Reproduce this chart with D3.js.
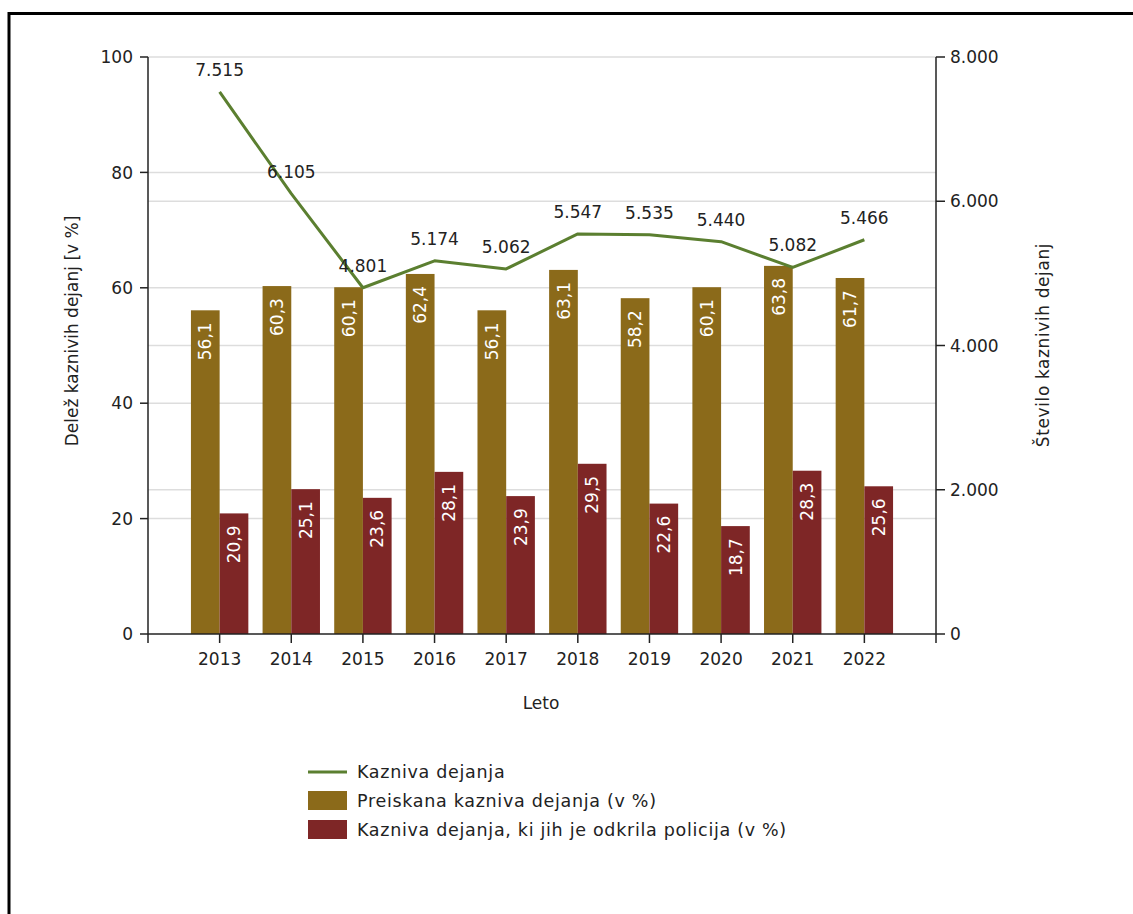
<!DOCTYPE html>
<html>
<head>
<meta charset="utf-8">
<script src="https://cdn.jsdelivr.net/npm/d3@7/dist/d3.min.js"></script>
<style>
  html, body { margin: 0; padding: 0; background: #fff; }
  svg text { font-family: "DejaVu Sans", Verdana, sans-serif; fill: #222; }
</style>
</head>
<body>
<svg id="chart" width="1133" height="914"></svg>
<script>
const years = ["2013","2014","2015","2016","2017","2018","2019","2020","2021","2022"];
const investigated = [56.1, 60.3, 60.1, 62.4, 56.1, 63.1, 58.2, 60.1, 63.8, 61.7];
const police = [20.9, 25.1, 23.6, 28.1, 23.9, 29.5, 22.6, 18.7, 28.3, 25.6];
const offences = [7515, 6105, 4801, 5174, 5062, 5547, 5535, 5440, 5082, 5466];
const leftTicks = [0, 20, 40, 60, 80, 100];
const rightTicks = [0, 2000, 4000, 6000, 8000];
const seriesNames = ["Kazniva dejanja", "Preiskana kazniva dejanja (v %)", "Kazniva dejanja, ki jih je odkrila policija (v %)"];

const colBrown = "#8b6a1a", colRed = "#7e2626", colGreen = "#5b7f30", gridCol = "#dddddd";

const svg = d3.select("#chart");
const L = 148, R = 936, T = 57, B = 634;

// frame
svg.append("path").attr("d", `M9,914 V13.5 H1133`).attr("fill","none").attr("stroke","#000").attr("stroke-width",3);

const x = d3.scalePoint().domain(years).range([L, R]).padding(1);
const yL = d3.scaleLinear().domain([0, 100]).range([B, T]);
const yR = d3.scaleLinear().domain([0, 8000]).range([B, T]);
const bw = 28.7;
const fmtPct = d => d3.format(".1f")(d).replace(".", ",");
const fmtNum = d => d3.format(",")(d).replace(/,/g, ".");

// gridlines
const g = svg.append("g");
g.selectAll("line.gl").data(leftTicks.filter(d => d > 0)).join("line")
  .attr("x1", L).attr("x2", R).attr("y1", d => yL(d)).attr("y2", d => yL(d))
  .attr("stroke", gridCol).attr("stroke-width", 1.5);
g.selectAll("line.gr").data(rightTicks.filter(d => d > 0 && d < 8000)).join("line")
  .attr("x1", L).attr("x2", R).attr("y1", d => yR(d)).attr("y2", d => yR(d))
  .attr("stroke", gridCol).attr("stroke-width", 1.5);

// bars
svg.append("g").selectAll("rect").data(years).join("rect")
  .attr("x", d => x(d) - bw).attr("width", bw)
  .attr("y", (d, i) => yL(investigated[i])).attr("height", (d, i) => B - yL(investigated[i]))
  .attr("fill", colBrown);
svg.append("g").selectAll("rect").data(years).join("rect")
  .attr("x", d => x(d)).attr("width", bw)
  .attr("y", (d, i) => yL(police[i])).attr("height", (d, i) => B - yL(police[i]))
  .attr("fill", colRed);

// bar labels
function barLabels(vals, dx) {
  svg.append("g").selectAll("text").data(years).join("text")
    .attr("transform", (d, i) => `translate(${x(d) + dx},${yL(vals[i]) + 31}) rotate(-90)`)
    .attr("text-anchor", "middle").attr("dy", "0.36em")
    .style("font-size", "17px").style("fill", "#fff")
    .text((d, i) => fmtPct(vals[i]));
}
barLabels(investigated, -bw / 2);
barLabels(police, bw / 2);

// axes
const axisG = svg.append("g").attr("stroke", "#222").attr("stroke-width", 1.5);
axisG.append("line").attr("x1", L).attr("x2", L).attr("y1", T).attr("y2", B + 9);
axisG.append("line").attr("x1", R).attr("x2", R).attr("y1", T).attr("y2", B + 9);
axisG.append("line").attr("x1", L).attr("x2", R).attr("y1", B).attr("y2", B);
axisG.selectAll("line.tl").data(leftTicks).join("line")
  .attr("x1", L - 8).attr("x2", L).attr("y1", d => yL(d)).attr("y2", d => yL(d));
axisG.selectAll("line.tr").data(rightTicks).join("line")
  .attr("x1", R).attr("x2", R + 9).attr("y1", d => yR(d)).attr("y2", d => yR(d));
axisG.selectAll("line.tx").data(years).join("line")
  .attr("x1", d => x(d)).attr("x2", d => x(d)).attr("y1", B).attr("y2", B + 9);

svg.append("g").selectAll("text").data(leftTicks).join("text")
  .attr("x", L - 15).attr("y", d => yL(d)).attr("dy", "0.36em").attr("text-anchor", "end")
  .style("font-size", "17px").text(d => d);
svg.append("g").selectAll("text").data(rightTicks).join("text")
  .attr("x", R + 14).attr("y", d => yR(d)).attr("dy", "0.36em").attr("text-anchor", "start")
  .style("font-size", "17px").text(d => fmtNum(d));
svg.append("g").selectAll("text").data(years).join("text")
  .attr("x", d => x(d)).attr("y", 665).attr("text-anchor", "middle")
  .style("font-size", "17px").text(d => d);

// axis titles
svg.append("text").attr("transform", "translate(72,331) rotate(-90)").attr("dy", "0.36em")
  .attr("text-anchor", "middle").style("font-size", "17px").text("Delež kaznivih dejanj [v %]");
svg.append("text").attr("transform", "translate(1043,345) rotate(-90)").attr("dy", "0.36em")
  .attr("text-anchor", "middle").style("font-size", "17px").style("letter-spacing", "0.6px").text("Število kaznivih dejanj");
svg.append("text").attr("x", 541).attr("y", 703).attr("dy", "0.36em")
  .attr("text-anchor", "middle").style("font-size", "17px").text("Leto");

// line
const line = d3.line().x((d, i) => x(years[i])).y(d => yR(d));
svg.append("path").datum(offences).attr("d", line)
  .attr("fill", "none").attr("stroke", colGreen).attr("stroke-width", 3).attr("stroke-linejoin", "round");
svg.append("g").selectAll("text").data(offences).join("text")
  .attr("x", (d, i) => x(years[i])).attr("y", d => yR(d) - 16)
  .attr("text-anchor", "middle").style("font-size", "17px").text(d => fmtNum(d));

// legend
const lg = svg.append("g");
lg.append("line").attr("x1", 308).attr("x2", 347).attr("y1", 772).attr("y2", 772)
  .attr("stroke", colGreen).attr("stroke-width", 3);
lg.append("rect").attr("x", 308).attr("y", 791).attr("width", 39).attr("height", 19).attr("fill", colBrown);
lg.append("rect").attr("x", 308).attr("y", 820).attr("width", 39).attr("height", 19).attr("fill", colRed);
lg.selectAll("text").data(seriesNames).join("text")
  .attr("x", 357).attr("y", (d, i) => 772 + i * 29).attr("dy", "0.36em")
  .style("font-size", "17.5px").style("letter-spacing", "0.7px").text(d => d);
</script>
</body>
</html>
